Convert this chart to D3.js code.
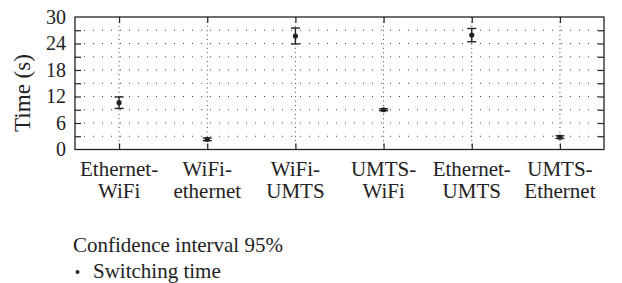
<!DOCTYPE html>
<html>
<head>
<meta charset="utf-8">
<script src="https://cdn.jsdelivr.net/npm/d3@7"></script>
<style>
  html, body { margin: 0; padding: 0; background: #fff; }
</style>
</head>
<body>
<svg id="chart" width="622" height="283"></svg>
<script>
const categories = [["Ethernet-", "WiFi"], ["WiFi-", "ethernet"], ["WiFi-", "UMTS"], ["UMTS-", "WiFi"], ["Ethernet-", "UMTS"], ["UMTS-", "Ethernet"]];
const meanValues = [10.6, 2.3, 25.7, 9.0, 25.9, 2.8];
const errorValues = [1.3, 0.3, 1.8, 0.2, 1.5, 0.3];
const yTicks = [0, 6, 12, 18, 24, 30];
const yGrid = [3, 6, 9, 12, 15, 18, 21, 24, 27];
const yLabel = "Time (s)";
const legendTitle = "Confidence interval 95%";
const legendItem = "Switching time";

const FONT = "'Liberation Serif', serif";
const svg = d3.select("#chart");
const m = { left: 75, right: 604, top: 17, bottom: 149.5 };
const ids = categories.map((c, i) => i);
const x = d3.scalePoint().domain(ids).range([m.left, m.right]).padding(0.5);
const y = d3.scaleLinear().domain([0, 30]).range([m.bottom, m.top]);
const ink = "#222";

svg.append("g").selectAll("line").data(yGrid).join("line")
  .attr("x1", m.left).attr("x2", m.right)
  .attr("y1", d => y(d)).attr("y2", d => y(d))
  .attr("stroke", "#444").attr("stroke-width", 1)
  .attr("stroke-dasharray", "1,8");
svg.append("g").selectAll("line").data(ids).join("line")
  .attr("x1", d => x(d)).attr("x2", d => x(d))
  .attr("y1", m.top).attr("y2", m.bottom)
  .attr("stroke", "#444").attr("stroke-width", 1)
  .attr("stroke-dasharray", "1,3.4");

const tk = 6;
svg.append("g").attr("transform", `translate(${m.left},0)`)
  .call(d3.axisRight(y).tickValues(yGrid).tickSize(tk).tickFormat(""))
  .call(g => g.select(".domain").remove());
svg.append("g").attr("transform", `translate(${m.right},0)`)
  .call(d3.axisLeft(y).tickValues(yGrid).tickSize(tk).tickFormat(""))
  .call(g => g.select(".domain").remove());
svg.append("g").attr("transform", `translate(0,${m.bottom})`)
  .call(d3.axisTop(x).tickSize(tk).tickFormat(""))
  .call(g => g.select(".domain").remove());
svg.append("g").attr("transform", `translate(0,${m.top})`)
  .call(d3.axisBottom(x).tickSize(tk).tickFormat(""))
  .call(g => g.select(".domain").remove());
svg.selectAll(".tick line").attr("stroke", ink).attr("stroke-width", 1.2);

svg.append("rect").attr("x", m.left).attr("y", m.top)
  .attr("width", m.right - m.left).attr("height", m.bottom - m.top)
  .attr("fill", "none").attr("stroke", ink).attr("stroke-width", 1.3);

function txt(sel) { return sel.style("font-family", FONT).attr("fill", ink); }

txt(svg.append("g").selectAll("text").data(yTicks).join("text"))
  .attr("x", m.left - 9).attr("y", d => y(d)).attr("dy", "0.34em")
  .attr("text-anchor", "end").attr("font-size", 20).text(d => d);

txt(svg.append("text")).attr("transform", `translate(30,93) rotate(-90)`)
  .attr("text-anchor", "middle").attr("font-size", 23).text(yLabel);

const cl = txt(svg.append("g").selectAll("text").data(ids).join("text"))
  .attr("text-anchor", "middle").attr("font-size", 21);
cl.append("tspan").attr("x", d => x(d)).attr("y", 175.7).text(d => categories[d][0]);
cl.append("tspan").attr("x", d => x(d)).attr("y", 197.5).text(d => categories[d][1]);

const cap = 4.5;
const eb = svg.append("g").selectAll("g").data(ids).join("g");
eb.append("line").attr("x1", d => x(d)).attr("x2", d => x(d))
  .attr("y1", d => y(meanValues[d] - errorValues[d])).attr("y2", d => y(meanValues[d] + errorValues[d]))
  .attr("stroke", ink).attr("stroke-width", 1.4);
eb.append("line").attr("x1", d => x(d) - cap).attr("x2", d => x(d) + cap)
  .attr("y1", d => y(meanValues[d] + errorValues[d])).attr("y2", d => y(meanValues[d] + errorValues[d]))
  .attr("stroke", ink).attr("stroke-width", 1.4);
eb.append("line").attr("x1", d => x(d) - cap).attr("x2", d => x(d) + cap)
  .attr("y1", d => y(meanValues[d] - errorValues[d])).attr("y2", d => y(meanValues[d] - errorValues[d]))
  .attr("stroke", ink).attr("stroke-width", 1.4);
eb.append("circle").attr("cx", d => x(d)).attr("cy", d => y(meanValues[d]))
  .attr("r", 2.6).attr("fill", ink);

txt(svg.append("text")).attr("x", 73).attr("y", 252).attr("font-size", 21).text(legendTitle);
svg.append("circle").attr("cx", 77.5).attr("cy", 272).attr("r", 2).attr("fill", ink);
txt(svg.append("text")).attr("x", 93).attr("y", 278).attr("font-size", 21).text(legendItem);
</script>
</body>
</html>
